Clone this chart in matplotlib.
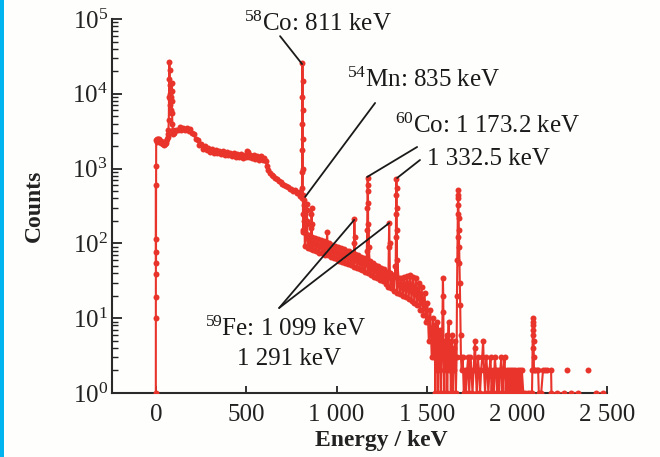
import numpy as np
import matplotlib
matplotlib.use("Agg")
import matplotlib.pyplot as plt
from matplotlib.patches import Rectangle
from matplotlib.ticker import FixedLocator, FixedFormatter, LogLocator, NullFormatter

plt.rcParams['font.family'] = ['Liberation Serif', 'DejaVu Serif']
plt.rcParams['mathtext.fontset'] = 'custom'
plt.rcParams['mathtext.rm'] = 'Liberation Serif'
plt.rcParams['mathtext.it'] = 'Liberation Serif:italic'
plt.rcParams['mathtext.bf'] = 'Liberation Serif:bold'

# ---------------- data ----------------
energy_rise = [-2, -2, -1.5, -1.5, -1, -1, -1, -1.5, -0.5, 0]
counts_rise = [1, 10, 19, 39, 55, 77, 115, 600, 1100, 2400]

energy_low = [2, 5, 8, 12, 16, 20, 24, 28, 32, 36, 40, 44, 48, 52, 56, 60, 63, 66, 68,
              70, 71, 72, 73, 74, 75, 76, 77, 78, 80, 82, 84, 85, 86, 87, 88, 90, 92,
              94, 96, 98]
counts_low = [2450, 2300, 2500, 2350, 2450, 2250, 2350, 2200, 2250, 2100, 2150, 2050,
              2150, 2200, 2350, 2450, 2650, 2900, 3300, 4500, 9000, 16000, 27000, 21000,
              13000, 10000, 8500, 7000, 6000, 5500, 9000, 14000, 11000, 8000, 5500, 4000,
              3300, 3000, 2900, 3100]

energy_mid = [100, 110, 120, 130, 140, 150, 160, 170, 180, 190, 200, 210, 220, 230, 240,
              250, 260, 270, 280, 290, 300, 310, 320, 330, 340, 350, 360, 370, 380, 390,
              400, 410, 420, 430, 440, 450, 460, 470, 480, 490, 500, 505, 510, 515, 520,
              530, 540, 550, 560, 570, 580, 590, 600, 608, 615, 622, 630, 640, 650, 660,
              670, 680, 690, 700, 710, 720, 730, 740, 750, 760, 770, 780, 790, 800, 805]
counts_mid = [3000, 3300, 3250, 3550, 3300, 3500, 3250, 3500, 3200, 3350, 3000, 2900,
              2450, 2400, 2050, 2100, 1850, 2000, 1760, 1890, 1680, 1840, 1640, 1780,
              1600, 1740, 1560, 1700, 1530, 1670, 1500, 1640, 1480, 1620, 1450, 1590,
              1420, 1570, 1400, 1540, 1450, 1720, 1680, 1420, 1540, 1370, 1510, 1350,
              1480, 1320, 1460, 1300, 1400, 1250, 1100, 950, 880, 820, 790, 740, 720,
              680, 660, 630, 610, 580, 570, 530, 540, 500, 510, 470, 480, 430, 440]

energy_co58 = [808, 808.5, 809, 809.5, 810, 810.5, 811, 811.5, 812, 812.5, 813, 813.5, 814, 815]
counts_co58 = [400, 550, 900, 1800, 4000, 9000, 26000, 15000, 6000, 2500, 1000, 450, 250, 150]

energy_band = list(range(816, 1537, 8))
counts_band = [140, 92, 135, 88, 128, 84, 122, 81, 118, 79, 115, 75, 110, 74, 108, 70,
               104, 69, 100, 65, 96, 63, 92, 62, 90, 58, 86, 56, 84, 55, 80, 53, 78, 51,
               75, 49, 72, 47, 70, 46, 66, 44, 64, 42, 60, 40, 58, 38, 55, 36, 52, 34,
               50, 32, 47, 31, 45, 29, 42, 26, 40, 25, 38, 23, 36, 22, 34, 21, 35, 20,
               36, 19, 37, 18, 38, 17, 36, 16, 34, 15, 30, 13, 26, 11, 22, 9, 16, 5, 13,
               3, 10]

energy_small_peaks = [820, 821, 822, 823, 834, 835, 836, 837, 860, 861, 862, 863,
                      946, 948, 950]
counts_small_peaks = [200, 330, 380, 250, 180, 280, 340, 200, 160, 250, 300, 180,
                      100, 140, 95]

energy_fe59 = [1095, 1097, 1099, 1101, 1103, 1288, 1290, 1292, 1294, 1296]
counts_fe59 = [60, 100, 210, 120, 60, 40, 90, 188, 100, 40]

energy_co60 = [1168, 1170, 1171, 1172, 1173, 1174, 1175, 1176, 1178,
               1327, 1329, 1330, 1331, 1332, 1333, 1334, 1335, 1337]
counts_co60 = [80, 150, 300, 500, 750, 600, 350, 180, 90,
               50, 120, 250, 450, 720, 550, 300, 150, 60]

energy_tail = [1540, 1544, 1548, 1552, 1556, 1560, 1564, 1568, 1572, 1576, 1580, 1584,
               1588, 1590, 1592, 1594, 1598, 1602, 1606, 1610, 1614, 1618, 1622, 1626,
               1630, 1634, 1638, 1642, 1646, 1650, 1654, 1658, 1662, 1666]
counts_tail = [3, 8, 1, 6, 2, 9, 1, 5, 2, 7, 1, 4, 12, 35, 20, 3, 1, 5, 2, 6, 1, 4, 9,
               2, 5, 1, 3, 6, 1, 4, 2, 5, 1, 3]

energy_1675 = [1668, 1670, 1671, 1672, 1673, 1674, 1675, 1676, 1677, 1678, 1680, 1682,
               1684, 1686, 1688, 1690]
counts_1675 = [20, 60, 120, 250, 400, 515, 450, 330, 220, 150, 90, 55, 30, 15, 6, 3]

energy_high = [1694, 1700, 1706, 1712, 1718, 1724, 1730, 1736, 1742, 1748, 1754, 1760,
               1766, 1768, 1772, 1778, 1784, 1790, 1796, 1802, 1808, 1813, 1818, 1824,
               1830, 1836, 1842, 1848, 1854, 1860, 1866, 1872, 1878, 1884, 1890, 1896,
               1902, 1908, 1914, 1920, 1926, 1932, 1938, 1944, 1950, 1956, 1962, 1968,
               1974, 1980, 1986, 1992, 1998, 2004, 2010, 2016, 2022, 2028, 2036, 2048,
               2060, 2072, 2084]
counts_high = [2, 3, 1, 2, 1, 2, 3, 1, 3, 2, 1, 2, 4, 5, 2, 1, 3, 2, 1, 2, 3, 5, 2, 1,
               3, 2, 1, 2, 3, 1, 2, 1, 3, 2, 1, 2, 1, 2, 3, 1, 2, 3, 1, 2, 1, 2, 1, 2, 1,
               2, 1, 2, 1, 2, 1, 2, 1, 2, 1, 1, 1, 1, 1]

energy_far = [2086, 2087, 2088, 2089, 2090, 2091, 2092, 2093, 2094, 2095, 2100, 2110,
              2118, 2122, 2135, 2145, 2156, 2170, 2190, 2192, 2220, 2260, 2270, 2278,
              2286, 2300, 2340, 2380, 2395, 2410, 2440, 2480]
counts_far = [2, 4, 6, 8, 10, 9, 7, 5, 3, 2, 2, 2, 2, 1, 1, 2, 2, 2, 2, 1, 1, 1, 0, 2,
              0, 1, 1, 0, 2, 0, 1, 1]

x_ticks = [0, 500, 1000, 1500, 2000, 2500]
x_tick_labels = ["0", "500", "1 000", "1 500", "2 000", "2 500"]

# ---------------- assemble spectrum ----------------
E = np.concatenate([energy_rise, energy_low, energy_mid, energy_co58, energy_band,
                    energy_small_peaks, energy_fe59, energy_co60, energy_tail,
                    energy_1675, energy_high, energy_far]).astype(float)
C = np.concatenate([counts_rise, counts_low, counts_mid, counts_co58, counts_band,
                    counts_small_peaks, counts_fe59, counts_co60, counts_tail,
                    counts_1675, counts_high, counts_far]).astype(float)
order = np.argsort(E, kind='stable')
E, C = E[order], C[order]
C = np.ma.masked_less_equal(C, 0)

# ---------------- figure ----------------
fig = plt.figure(figsize=(6.6, 4.57), dpi=100, facecolor='#fefefc')
fig.patches.append(Rectangle((0, 0), 4 / 660, 1, transform=fig.transFigure,
                             facecolor='#00b4f0', edgecolor='none', zorder=0))
ax = fig.add_axes([112 / 660, 1 - 393 / 457, (607 - 112) / 660, (393 - 19) / 457])
ax.set_facecolor('#fefefc')

red = '#e8342b'
ax.plot(E, C, color=red, lw=1.5, marker='o', ms=4.3, mew=0, zorder=3)

ax.set_yscale('log')
ax.set_ylim(1, 1e5)
ax.set_xlim(-245, 2500)

for s in ['top', 'right']:
    ax.spines[s].set_visible(False)
for s in ['left', 'bottom']:
    ax.spines[s].set_linewidth(1.5)
    ax.spines[s].set_color('#2a2a2a')

ax.xaxis.set_major_locator(FixedLocator(x_ticks))
ax.xaxis.set_major_formatter(FixedFormatter(x_tick_labels))
ax.yaxis.set_major_locator(LogLocator(base=10, numticks=10))
ax.yaxis.set_minor_locator(LogLocator(base=10, subs=np.arange(2, 10), numticks=20))
ax.yaxis.set_minor_formatter(NullFormatter())
ax.tick_params(axis='x', direction='in', length=5, width=1.3, labelsize=18, pad=8,
               colors='#222222')
ax.tick_params(axis='y', which='major', direction='in', length=7, width=1.3,
               labelsize=18, pad=3, colors='#222222')
ax.tick_params(axis='y', which='minor', direction='in', length=4, width=1.0,
               colors='#222222')

ax.set_xlabel('Energy / keV', fontsize=17, fontweight='bold', color='#222222')
ax.xaxis.set_label_coords(0.545, -0.10)
ax.xaxis.label.set_va('top')
ax.set_ylabel('Counts', fontsize=17, fontweight='bold', color='#222222')
ax.yaxis.set_label_coords(-0.135, 0.5)

# ---------------- annotations ----------------
tc = '#1a1a1a'
fs = 18
ax.text(488, 69000, r'$^{58}$Co: 811 keV', fontsize=fs, color=tc, ha='left', va='baseline')
ax.text(1059, 12300, r'$^{54}$Mn: 835 keV', fontsize=fs, color=tc, ha='left', va='baseline')
ax.text(1325, 2990, r'$^{60}$Co: 1 173.2 keV', fontsize=fs, color=tc, ha='left', va='baseline')
ax.text(1502, 1117, '1 332.5 keV', fontsize=fs, color=tc, ha='left', va='baseline')
ax.text(272, 5.78, r'$^{59}$Fe: 1 099 keV', fontsize=fs, color=tc, ha='left', va='baseline')
ax.text(449, 2.37, '1 291 keV', fontsize=fs, color=tc, ha='left', va='baseline')

lp = dict(arrowstyle='-', color=tc, lw=1.3, shrinkA=0, shrinkB=0)
ax.annotate('', xy=(809, 25000), xytext=(687, 59000), arrowprops=lp)
ax.annotate('', xy=(826, 418), xytext=(1214, 7540), arrowprops=lp)
ax.annotate('', xy=(1170, 773), xytext=(1447, 1945), arrowprops=lp)
ax.annotate('', xy=(1336, 749), xytext=(1463, 1303), arrowprops=lp)
ax.annotate('', xy=(1098, 206), xytext=(682, 13.7), arrowprops=lp)
ax.annotate('', xy=(1292, 187), xytext=(682, 13.7), arrowprops=lp)

fig.savefig('out.png', dpi=100, facecolor=fig.get_facecolor())
